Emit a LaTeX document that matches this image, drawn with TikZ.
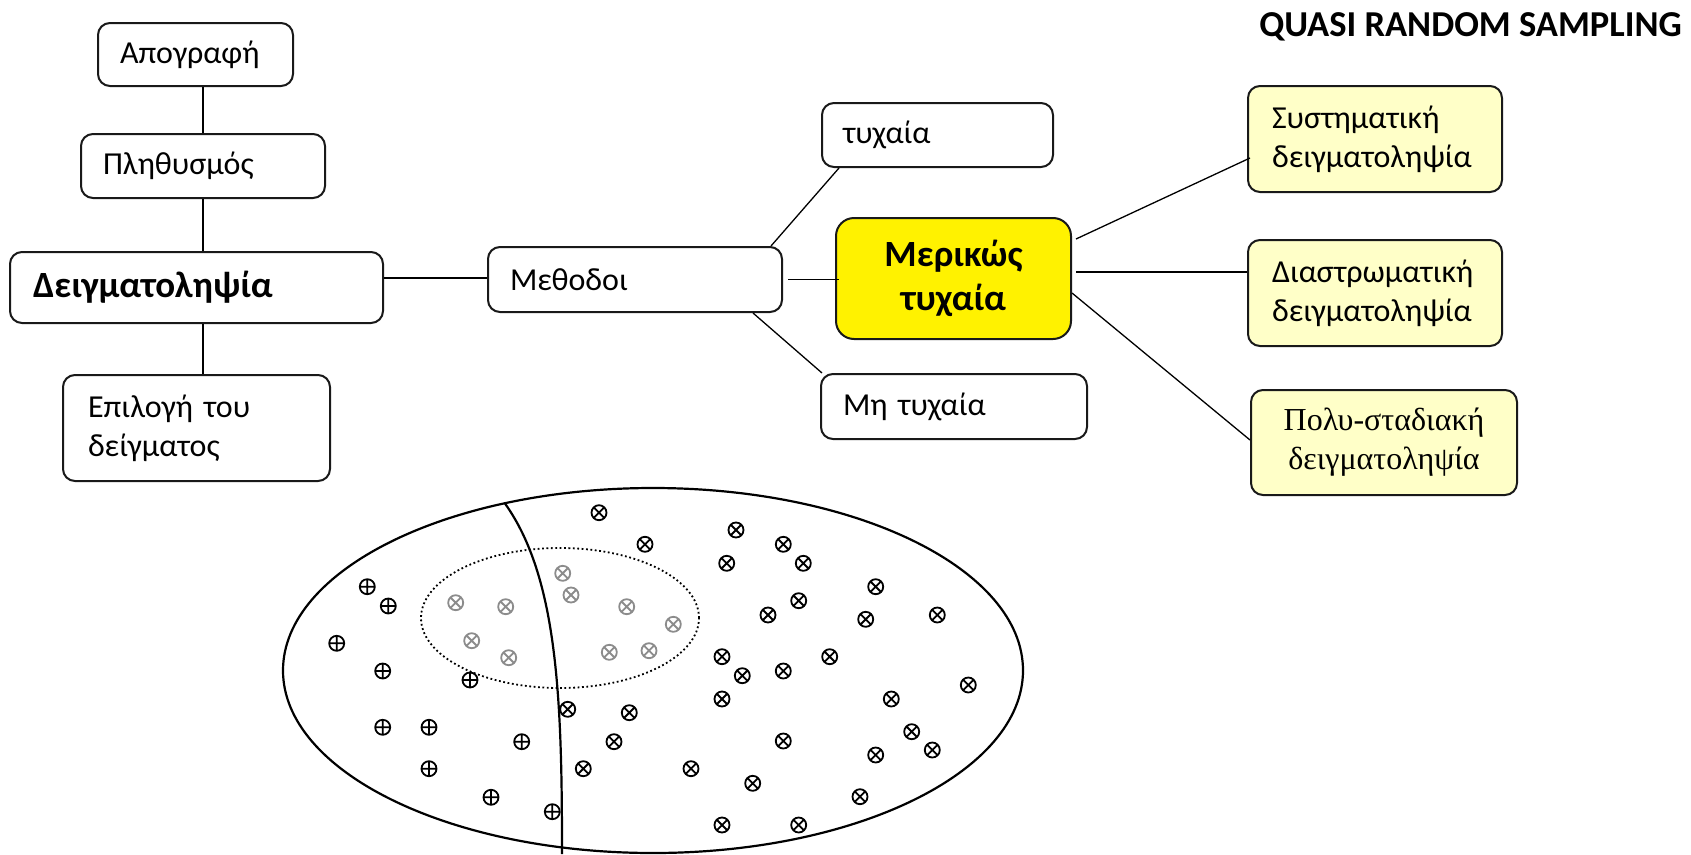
\documentclass[tikz,border=0pt]{standalone}
\usepackage{fontspec}
\setmainfont{Carlito}
\newfontfamily\serifgr{Liberation Serif}
\definecolor{lightyel}{HTML}{FFFFC8}
\definecolor{markgray}{HTML}{8C8C8C}
\begin{document}
\begin{tikzpicture}[x=1pt,y=-1pt,
  box/.style={draw=black!90, line width=2pt, rounded corners=12pt, inner ysep=0pt, align=left, font=\fontsize{32}{39}\selectfont},
  conn/.style={line width=1.3pt},
  pplus/.pic={\draw[line width=1.8pt] (0,0) circle[radius=7.5pt] (-7.5,0) -- (7.5,0) (0,-7.5) -- (0,7.5);},
  pcross/.pic={\draw[line width=1.8pt] (0,0) circle[radius=7.5pt] (-5.3,-5.3) -- (5.3,5.3) (-5.3,5.3) -- (5.3,-5.3);},
  gcross/.pic={\draw[line width=1.8pt, markgray] (0,0) circle[radius=7.5pt] (-5.3,-5.3) -- (5.3,5.3) (-5.3,5.3) -- (5.3,-5.3);}
]
\useasboundingbox (0,0) rectangle (1691,854);

% title
\node[font=\bfseries\fontsize{36.5}{42}\selectfont, anchor=east, inner sep=0pt] (title) at (1682,27) {QUASI RANDOM SAMPLING};

% left column
\node[box, minimum width=195pt, minimum height=63pt, inner xsep=22pt, text width=151pt] (apo) at (195.5,54.5) {Απογραφή};
\node[box, minimum width=244pt, minimum height=64pt, inner xsep=22pt, text width=200pt] (plith) at (203,166) {Πληθυσμός};
\node[box, minimum width=373pt, minimum height=71pt, inner xsep=23pt, text width=327pt, font=\bfseries\fontsize{37}{44}\selectfont] (deigm) at (196.5,287.5) {Δειγματοληψία};
\node[box, minimum width=267pt, minimum height=106pt, inner xsep=25pt, text width=217pt] (epil) at (196.5,428) {Επιλογή του\\δείγματος};

% middle
\node[box, minimum width=294pt, minimum height=65pt, inner xsep=22pt, text width=250pt] (meth) at (635,279.5) {Μεθοδοι};
\node[box, minimum width=231pt, minimum height=64pt, inner xsep=21pt, text width=189pt] (tyx) at (937.5,135) {τυχαία};
\node[box, minimum width=235pt, minimum height=121pt, rounded corners=18pt, fill=yellow, align=center, inner xsep=10pt, text width=215pt, font=\bfseries\fontsize{37}{44}\selectfont] (mer) at (953.5,278.5) {Μερικώς\\τυχαία};
\node[box, minimum width=266pt, minimum height=65pt, inner xsep=22pt, text width=222pt] (mh) at (954,406.5) {Μη τυχαία};

% right column
\node[box, fill=lightyel, minimum width=254pt, minimum height=106pt, inner xsep=24pt, text width=206pt] (syst) at (1375,139) {Συστηματική\\δειγματοληψία};
\node[box, fill=lightyel, minimum width=254pt, minimum height=106pt, inner xsep=24pt, text width=206pt] (diast) at (1375,293) {Διαστρωματική\\δειγματοληψία};
\node[box, fill=lightyel, minimum width=266pt, minimum height=105pt, inner xsep=15pt, text width=236pt, align=center, font=\serifgr\fontsize{32}{39}\selectfont] (poly) at (1384,442.5) {Πολυ-σταδιακή\\δειγματοληψία};

% connectors
\draw[conn] (plith.north) -- (plith.north |- apo.south);
\draw[conn] (plith.south) -- (plith.south |- deigm.north);
\draw[conn] (plith.south |- deigm.south) -- (plith.south |- epil.north);
\draw[conn] ([yshift=9.5pt]deigm.east) -- ([yshift=1.5pt]meth.west);
\draw[conn] ([xshift=5pt]meth.east) -- ([xshift=4pt]meth.east -| mer.west);
\draw[conn] ([xshift=-12pt]meth.north east) -- ([xshift=18pt]tyx.south west);
\draw[conn] ([xshift=-30pt]meth.south east) -- ([xshift=2pt]mh.north west);
\draw[conn] ([xshift=4pt,yshift=39.5pt]mer.east) -- ([xshift=3pt,yshift=-19pt]syst.west);
\draw[conn] ([xshift=4pt,yshift=6.5pt]mer.east) -- ([yshift=21pt]diast.west);
\draw[conn] ([yshift=-14.5pt]mer.east) -- ([yshift=2.5pt]poly.west);

% population ellipse
\draw[line width=2.2pt] (653,670.5) ellipse [x radius=370pt, y radius=182.5pt];
\draw[line width=2.2pt] (505,503.5) .. controls (558,578) and (562,700) .. (562,854);
\draw[line width=1.8pt, dash pattern=on 1.8pt off 2.6pt] (560,618) ellipse [x radius=139pt, y radius=70pt];

\foreach \x/\y in {367.3/586.7, 388.3/606, 336.7/643.3, 382.7/671, 470/680, 382.7/727.3, 429/727.3, 521.7/741.7, 429/768.7, 491/797.3, 552.3/811.7}
  \pic at (\x,\y) {pplus};

\foreach \x/\y in {455.7/602.7, 505.7/606.7, 471.7/640.7, 508.7/657.7, 562.7/573.3, 571/595, 626.7/606.7, 673.3/624.3, 609.3/652.3, 649/650.7}
  \pic at (\x,\y) {gcross};

\foreach \x/\y in {599/512.7, 645/544.3, 726.7/563.3, 736/530, 722/656.7, 742.3/675.7, 722/699, 567.7/709.3, 629.3/712.7, 614/741.7, 583.3/768.7, 691/768.7, 722/825,
  783.3/544.3, 803.3/563.3, 875.7/586.7, 798.7/600.7, 768/615, 865.7/619.3, 937.3/615, 783.3/671, 829.7/656.7, 968.3/685, 891.3/699, 783.3/741, 911.7/731.7, 932.3/750, 875.7/755, 752.7/783.3, 860/796.7, 798.7/825}
  \pic at (\x,\y) {pcross};
\end{tikzpicture}
\end{document}
